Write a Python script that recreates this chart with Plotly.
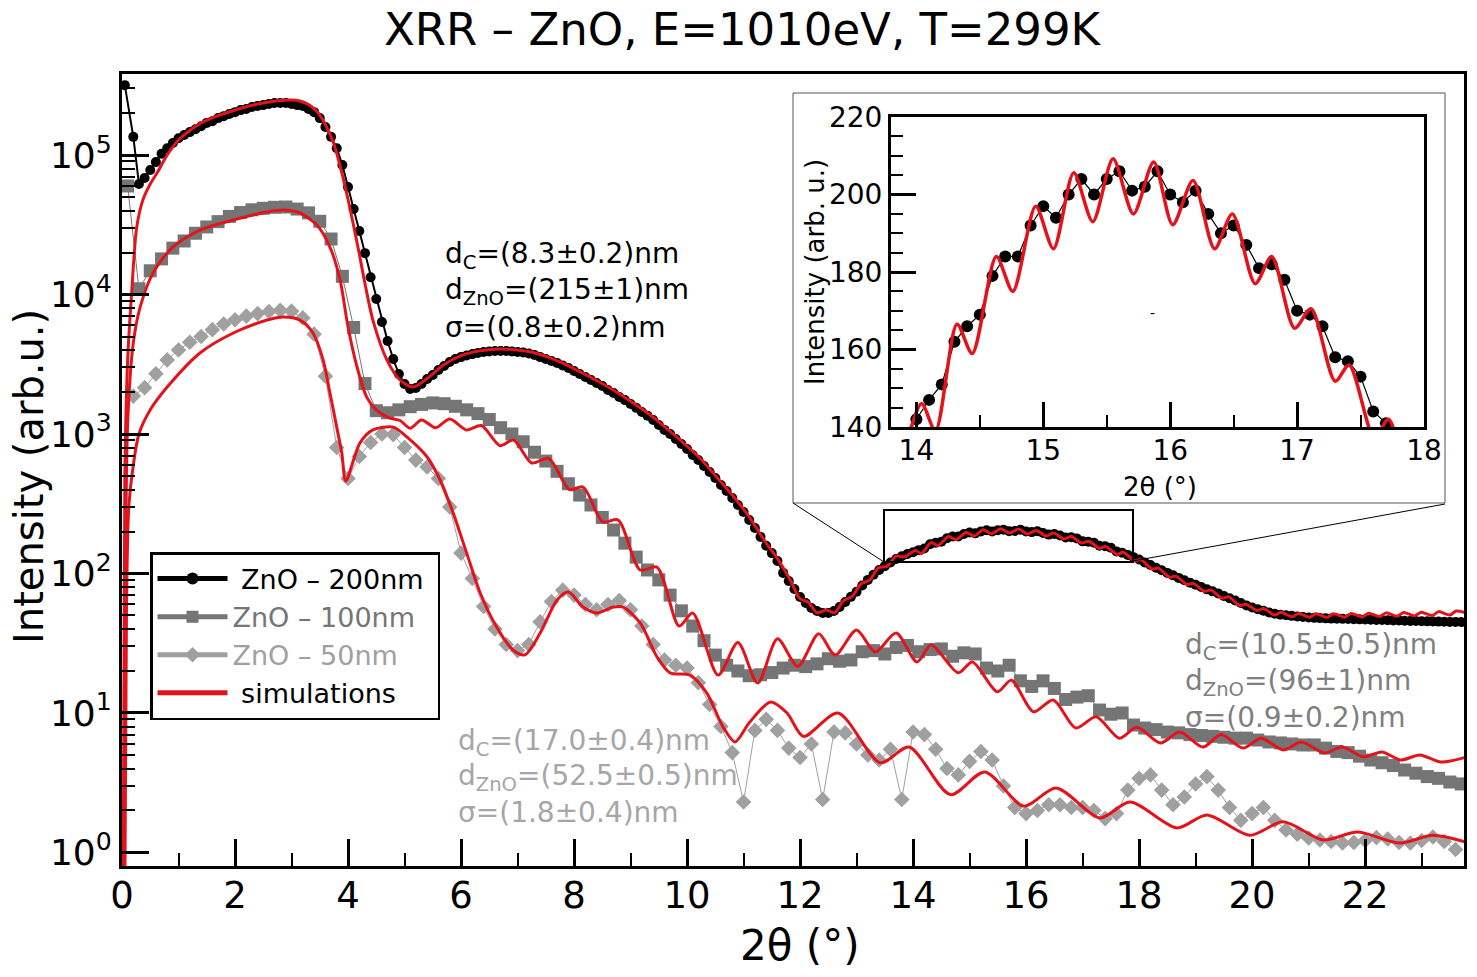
import numpy as np
import plotly.graph_objects as go

FONT = "DejaVu Sans"
RED = "#e4131b"
GRAY100 = "#757575"
GRAY50 = "#a0a0a0"

# ---- measured data (2theta in deg, intensity in arb. u.) ----
# ZnO 200nm, step 0.1 deg after the first three points
x200 = [0.05, 0.2, 0.3] + [round(0.4 + 0.1 * i, 2) for i in range(234)]
y200 = [317000, 135000, 62000,
        68400, 78000, 89000, 102000, 112000, 122000,
        132000, 139000, 146000, 153000, 161000, 170000, 175000, 184000, 190000, 197000,
        203000, 210000, 214000, 221000, 225000, 228000, 232000, 236000, 236000, 236000,
        232000, 228000, 225000, 214000, 203000, 184000, 159000, 135000, 112000, 84800,
        59000, 41000, 28500, 19800, 13300, 9300, 6360, 4640, 3450, 2690,
        2280, 2100, 2140, 2280, 2480, 2650, 2880, 3070, 3280, 3450,
        3560, 3650, 3740, 3810, 3870, 3900, 3940, 3940, 3940, 3900,
        3870, 3840, 3780, 3680, 3560, 3450, 3340, 3230, 3100, 2970,
        2830, 2690, 2560, 2440, 2320, 2210, 2070, 1970, 1840, 1750,
        1640, 1540, 1440, 1350, 1260, 1160, 1070, 1000, 920, 848,
        781, 707, 652, 590, 534, 484, 431, 390, 348, 310,
        276, 242, 212, 183, 158, 140, 123, 101, 88.3, 77.4,
        67.9, 61.5, 56.6, 53.8, 52.1, 52.1, 53.8, 57.5, 62.5, 68,
        74, 82, 90, 98, 106, 113, 120, 127, 133, 138,
        142, 147, 151, 162, 166, 169, 179, 184, 184, 192,
        197, 194, 200, 204, 200, 204, 206, 201, 202, 206,
        200, 198, 201, 195, 190, 192, 187, 181, 182, 178,
        170, 169, 166, 158, 157, 153, 144, 141, 136, 131,
        126, 120, 115, 110, 105.5, 101, 97, 93, 89.5, 86,
        83, 80, 77, 74.5, 72, 69, 66.5, 64, 61.5, 59,
        57, 55.5, 54, 52.5, 51.5, 50.7, 50.2, 49.7, 49.2, 48.8,
        48.4, 48.1, 47.9, 47.7, 47.5, 47.4, 47.3, 47.2, 47.0, 46.9,
        46.8, 46.6, 46.5, 46.4, 46.3, 46.1, 46.0, 45.9, 45.7, 45.6,
        45.5, 45.4, 45.3, 45.2, 45.1, 45.0, 45.0, 44.9]

# ZnO 100nm, step 0.2 deg
x100 = [round(0.1 + 0.2 * i, 2) for i in range(119)]
y100 = [60000, 11000, 14800, 18000, 21500, 24200, 27500, 30500, 33300, 36300,
        38700, 40500, 41500, 42200, 42400, 41000, 38500, 33500, 25000, 13500,
        5800, 2300, 1470, 1420, 1490, 1570, 1630, 1670, 1650, 1580,
        1490, 1400, 1270, 1110, 1000, 880, 740, 640, 540, 440,
        365, 310, 252, 205, 165, 131, 106, 90, 70, 54,
        42, 33, 26, 22, 20, 18.5, 18.8, 19.5, 21, 22,
        21.5, 22.5, 24.5, 23.5, 24, 27.5, 28, 26.5, 29.5, 30.5,
        27.5, 28.5, 28.8, 25.5, 27, 26.5, 21, 20, 22, 17,
        15.5, 17, 15, 12.5, 13, 13.3, 10.5, 9.8, 10, 8.2,
        7.8, 7.6, 7.3, 7.2, 7.0, 6.9, 6.8, 6.7, 6.6, 6.6,
        6.4, 6.2, 6.1, 6.0, 5.9, 5.9, 5.6, 5.3, 5.2, 4.9,
        4.6, 4.4, 4.2, 3.9, 3.7, 3.5, 3.4, 3.2, 3.1]

# ZnO 50nm, step 0.2 deg
x50 = [round(0.2 * i, 2) for i in range(1, 119)]
y50 = [1870, 2150, 2700, 3400, 4000, 4550, 5000, 5600, 6150, 6600,
       7000, 7300, 7550, 7700, 7600, 6800, 5200, 2600, 800, 480,
       690, 870, 1000, 990, 800, 650, 580, 480, 300, 140,
       92, 58, 40, 31, 28, 31, 45, 63, 76, 70,
       60, 55, 60, 64, 55, 42, 31, 24, 22, 21,
       16.5, 11.5, 8, 5.2, 2.3, 7.5, 9.0, 7.5, 5.6, 4.8,
       6.0, 2.4, 7.3, 7.2, 6.0, 5.0, 4.6, 5.5, 2.4, 7.3,
       7.0, 5.5, 4.0, 3.6, 4.5, 5.3, 4.6, 3.0, 2.1, 1.9,
       2.0, 2.2, 2.2, 2.1, 2.1, 2.0, 1.75, 1.9, 2.8, 3.4,
       3.6, 2.8, 2.2, 2.5, 3.1, 3.5, 2.8, 2.1, 1.7, 1.9,
       2.1, 1.7, 1.45, 1.35, 1.27, 1.23, 1.2, 1.17, 1.18, 1.22,
       1.28, 1.25, 1.18, 1.17, 1.22, 1.29, 1.2, 1.05]

# ---- simulations (read at extrema and shape points) ----
sim200_x = [0.02, 0.05, 0.1, 0.17, 0.26, 0.37, 0.5, 0.62, 0.8, 1.0,
            1.2, 1.4, 1.6, 1.8, 2.0, 2.2, 2.4, 2.6, 2.8, 3.0,
            3.15, 3.3, 3.45, 3.6, 3.75, 3.9, 4.0, 4.1, 4.2, 4.3,
            4.44, 4.69, 4.92, 5.15, 5.4, 5.7, 6.0, 6.3, 6.6, 6.9,
            7.2, 7.5, 7.8, 8.1, 8.4, 8.7, 9.0, 9.3, 9.6, 9.9,
            10.2, 10.5, 10.8, 11.1, 11.4, 11.6, 11.84, 11.99, 12.15, 12.3,
            12.46, 12.61, 12.77, 12.92, 13.08, 13.23, 13.39, 13.54, 13.7, 13.85,
            14.04, 14.15, 14.32, 14.44, 14.63, 14.76, 14.94, 15.08, 15.24, 15.39,
            15.55, 15.71, 15.87, 16.02, 16.18, 16.35, 16.49, 16.67, 16.8, 16.98,
            17.11, 17.3, 17.41, 17.61, 17.72, 17.92, 18.03, 18.23, 18.34, 18.54,
            18.65, 18.85, 18.96, 19.16, 19.27, 19.47, 19.58, 19.78, 19.89, 20.09,
            20.2, 20.4, 20.51, 20.71, 20.82, 21.02, 21.13, 21.33, 21.44, 21.64,
            21.75, 21.95, 22.06, 22.26, 22.37, 22.57, 22.68, 22.88, 22.99, 23.19,
            23.3, 23.5, 23.61, 23.77]
sim200_y = [0.5, 490, 3400, 10200, 30300, 47700, 62000, 74300, 100000, 128000,
            150000, 170000, 185000, 198000, 210000, 222000, 232000, 240000, 246000, 248000,
            244000, 230000, 205000, 165000, 120000, 72000, 48000, 31000, 19500, 12000,
            6560, 3390, 2440, 2170, 2500, 3150, 3650, 3930, 4060, 4040,
            3900, 3600, 3220, 2800, 2420, 2060, 1720, 1420, 1130, 890,
            690, 505, 365, 255, 165, 128, 88, 66.5, 62, 52.2,
            54.7, 52.4, 64, 68.4, 84.4, 89.6, 110, 112.5, 133, 131.5,
            146, 139, 166.5, 159, 184, 175, 197, 186, 205.6, 193,
            209.2, 195, 208.4, 192.2, 203.6, 186, 195, 177, 184, 165.5,
            170.5, 151.8, 156, 137, 142, 123.6, 125.7, 107.7, 109.2, 94.1,
            95.8, 83.4, 85, 74.5, 76.2, 66.5, 68, 59, 60.2, 54.3,
            56.1, 50.4, 52.7, 49, 51.7, 48.5, 51.5, 48.5, 51.5, 48.6,
            51.7, 48.8, 51.9, 49.1, 52.2, 49.4, 52.5, 49.7, 52.8, 50,
            53.3, 50.4, 53.8, 52.5]

sim100_x = [0.04, 0.06, 0.1, 0.2, 0.32, 0.55, 0.9, 1.38, 1.97, 2.56,
            2.85, 3.15, 3.45, 3.68, 3.86, 4.0, 4.16, 4.33, 4.5, 4.74,
            4.92, 5.1, 5.3, 5.55, 5.8, 6.1, 6.36, 6.69, 6.93, 7.25,
            7.55, 7.92, 8.16, 8.51, 8.78, 9.17, 9.47, 9.86, 10.1, 10.55,
            10.9, 11.25, 11.6, 11.96, 12.33, 12.62, 13.0, 13.33, 13.7, 14.07,
            14.32, 14.8, 15.05, 15.49, 15.74, 16.13, 16.48, 16.88, 17.24, 17.65,
            17.96, 18.38, 18.72, 19.13, 19.45, 19.84, 20.16, 20.55, 20.87, 21.28,
            21.6, 21.97, 22.3, 22.63, 22.97, 23.34, 23.77]
sim100_y = [0.5, 80, 1200, 4500, 8100, 14300, 21900, 29000, 34200, 39000,
            40300, 38400, 31500, 21900, 12700, 5850, 3020, 1840, 1490, 1300,
            1250, 1100, 1260, 1110, 1280, 1070, 1150, 825, 906, 620,
            668, 400, 417, 234, 242, 106, 111, 42, 52, 18.7,
            32, 16.4, 34, 21.6, 37, 26, 39.4, 27.4, 37.4, 23.2,
            30.7, 19.4, 23.2, 14.2, 17.2, 10.2, 12.4, 7.8, 9.4, 6.6,
            7.9, 6.1, 7.3, 5.7, 7.0, 5.6, 6.6, 5.43, 6.2, 5.17,
            5.7, 4.84, 5.25, 4.6, 5.0, 4.45, 4.8]

sim50_x = [0.05, 0.08, 0.12, 0.2, 0.3, 0.5, 0.8, 1.38, 1.97, 2.57,
           2.85, 3.15, 3.38, 3.56, 3.68, 3.8, 3.89, 3.96, 4.21, 4.44,
           4.8, 5.04, 5.4, 5.63, 5.86, 6.1, 6.34, 6.63, 6.92, 7.13,
           7.4, 7.7, 7.9, 8.16, 8.4, 8.7, 8.87, 9.17, 9.47, 9.7,
           10.05, 10.35, 10.64, 10.85, 11.1, 11.48, 11.77, 12.06, 12.67, 13.42,
           13.93, 14.66, 15.27, 15.96, 16.53, 17.31, 17.84, 18.67, 19.2, 19.96,
           20.55, 21.26, 21.86, 22.62, 23.2, 23.77]
sim50_y = [0.5, 60, 300, 600, 1000, 1490, 2170, 3810, 5300, 6560,
           6900, 6560, 5300, 3390, 1970, 1120, 731, 460, 861, 1070,
           1120, 953, 684, 468, 272, 140, 72.5, 41.3, 28.3, 26.1,
           37.4, 64.6, 73.6, 57.5, 52.1, 57.5, 57.5, 44.2, 25.2, 19.4,
           18.7, 13.9, 7.9, 6.2, 8.5, 12, 10, 6.8, 10, 4.4,
           5.7, 2.6, 3.78, 2.15, 2.9, 1.77, 2.3, 1.5, 1.86, 1.33,
           1.66, 1.23, 1.4, 1.17, 1.33, 1.19]

# fitted parameters shown on the plot
params200 = ["d<sub>C</sub>=(8.3±0.2)nm", "d<sub>ZnO</sub>=(215±1)nm", "σ=(0.8±0.2)nm"]
params100 = ["d<sub>C</sub>=(10.5±0.5)nm", "d<sub>ZnO</sub>=(96±1)nm", "σ=(0.9±0.2)nm"]
params50 = ["d<sub>C</sub>=(17.0±0.4)nm", "d<sub>ZnO</sub>=(52.5±0.5)nm", "σ=(1.8±0.4)nm"]

ydecades = [1, 10, 100, 1000, 10000, 100000]
ydecade_text = ["10<sup>%d</sup>" % k for k in range(6)]
yminor = [m * d for d in ydecades for m in range(2, 10) if m * d < 3.8e5]

# the page puts an 8px body margin round the figure: reference pixels are
# shifted back by it, and the figure is 16px smaller than the window
OFF = 8
W, H = 1461, 961
L, T = 122 - OFF, 74 - OFF
R, B = W - (1464 - OFF), H - (866 - OFF)
def px(p):
    return (p - OFF - L) / (W - L - R)
def py(q):
    return (H - B - (q - OFF)) / (H - T - B)

fig = go.Figure()

fig.add_trace(go.Scatter(x=x200, y=y200, mode="lines+markers",
                         name="\u00a0ZnO – 200nm\u00a0",
                         line=dict(color="black", width=2),
                         marker=dict(symbol="circle", size=10, color="black"),
                         legendrank=1))
fig.add_trace(go.Scatter(x=x100, y=y100, mode="lines+markers",
                         name="<span style='color:%s'>ZnO – 100nm</span>" % GRAY100,
                         line=dict(color=GRAY100, width=1),
                         marker=dict(symbol="square", size=13, color=GRAY100),
                         legendrank=2))
fig.add_trace(go.Scatter(x=x50, y=y50, mode="lines+markers",
                         name="<span style='color:%s'>ZnO – 50nm</span>" % GRAY50,
                         line=dict(color=GRAY50, width=1),
                         marker=dict(symbol="diamond", size=12, color=GRAY50),
                         legendrank=3))
for i, (sx, sy) in enumerate([(sim200_x, sim200_y), (sim100_x, sim100_y), (sim50_x, sim50_y)]):
    fig.add_trace(go.Scatter(x=sx, y=sy, mode="lines", name="\u00a0simulations",
                             line=dict(color=RED, width=3, shape="spline", smoothing=0.8),
                             showlegend=(i == 0), legendrank=4))

# inset
fig.add_trace(go.Scatter(x=x200, y=y200, mode="lines+markers", xaxis="x2", yaxis="y2",
                         line=dict(color="black", width=1.2),
                         marker=dict(symbol="circle", size=12, color="black"),
                         showlegend=False))
fig.add_trace(go.Scatter(x=sim200_x, y=sim200_y, mode="lines", xaxis="x2", yaxis="y2",
                         line=dict(color=RED, width=3.5, shape="spline", smoothing=0.8),
                         showlegend=False))

axis_common = dict(showline=True, linecolor="black", mirror=True, showgrid=False,
                   zeroline=False, ticks="inside", tickcolor="black")

fig.update_layout(
    width=W, height=H,
    margin=dict(l=L, r=R, t=T, b=B, autoexpand=False),
    paper_bgcolor="white", plot_bgcolor="white",
    font=dict(family=FONT, color="black"),
    title=dict(text="XRR – ZnO, E=1010eV, T=299K", x=(742 - OFF) / W, xref="container",
               xanchor="center", y=1 - (29 - OFF) / H, yref="container", yanchor="middle",
               font=dict(size=45)),
    legend=dict(x=px(150), y=py(552), xanchor="left", yanchor="top",
                bgcolor="white", bordercolor="black", borderwidth=2.5,
                font=dict(size=27), tracegroupgap=0, itemwidth=70,
                itemsizing="constant"),
    xaxis=dict(axis_common, range=[0, 23.75], tickvals=list(range(0, 24, 2)),
               ticklen=27, tickwidth=2.5, linewidth=3, tickfont=dict(size=37),
               ticklabelstandoff=-5,
               minor=dict(tickvals=list(range(1, 24, 2)), ticks="inside", ticklen=13,
                          tickwidth=2, tickcolor="black")),
    yaxis=dict(axis_common, type="log", range=[np.log10(0.8), np.log10(3.81e5)],
               tickvals=ydecades, ticktext=ydecade_text,
               ticklen=27, tickwidth=2.5, linewidth=3, tickfont=dict(size=36),
               minor=dict(tickvals=yminor, ticks="inside", ticklen=13,
                          tickwidth=2, tickcolor="black")),
    xaxis2=dict(axis_common, anchor="y2", domain=[px(891), px(1424)], range=[13.8, 18],
                tickvals=[14, 15, 16, 17, 18], ticklen=25, tickwidth=2.5, linewidth=3,
                tickfont=dict(size=28), ticklabelstandoff=-4,
                minor=dict(dtick=0.5, ticks="inside", ticklen=12, tickwidth=2,
                           tickcolor="black")),
    yaxis2=dict(axis_common, anchor="x2", domain=[py(427), py(117)], range=[140, 220],
                tickvals=[140, 160, 180, 200, 220], ticklen=25, tickwidth=2.5, linewidth=3,
                tickfont=dict(size=28),
                minor=dict(dtick=5, ticks="inside", ticklen=12, tickwidth=2,
                           tickcolor="black")),
)

# inset frame, zoom box and connectors
fig.add_shape(type="rect", xref="paper", yref="paper", x0=px(793), x1=px(1445),
              y0=py(503), y1=py(93), line=dict(color="#555555", width=1),
              fillcolor="white", layer="below")
fig.add_shape(type="rect", xref="paper", yref="paper", x0=px(884), x1=px(1133),
              y0=py(562), y1=py(510), line=dict(color="black", width=2))
fig.add_shape(type="line", xref="paper", yref="paper", x0=px(793), y0=py(503),
              x1=px(884), y1=py(562), line=dict(color="black", width=1))
fig.add_shape(type="line", xref="paper", yref="paper", x0=px(1445), y0=py(504),
              x1=px(1133), y1=py(561), line=dict(color="black", width=1))

# axis titles and the small mark inside the inset
for text, x0, y0, size, angle in [("2θ (°)", 800, 945, 42, 0),
                                  ("Intensity (arb.u.)", 29, 477, 40, -90),
                                  ("2θ (°)", 1160, 487, 26, 0),
                                  ("Intensity (arb. u.)", 815, 272, 26, -90),
                                  ("-", 1152, 313, 14, 0)]:
    fig.add_annotation(text=text, xref="paper", yref="paper", x=px(x0), y=py(y0),
                       xanchor="center", yanchor="middle", textangle=angle,
                       showarrow=False, font=dict(size=size))

# fit parameters
for lines, x0, ys, col in [(params200, 443, [256, 291, 327], "black"),
                           (params100, 1183, [646, 682, 717], "#7f7f7f"),
                           (params50, 456, [742, 777, 812], "#a6a6a6")]:
    for t, yy in zip(lines, ys):
        fig.add_annotation(text=t, xref="paper", yref="paper", x=px(x0), y=py(yy),
                           xanchor="left", yanchor="middle", showarrow=False,
                           font=dict(size=28, color=col))

fig.write_html("out.html")
